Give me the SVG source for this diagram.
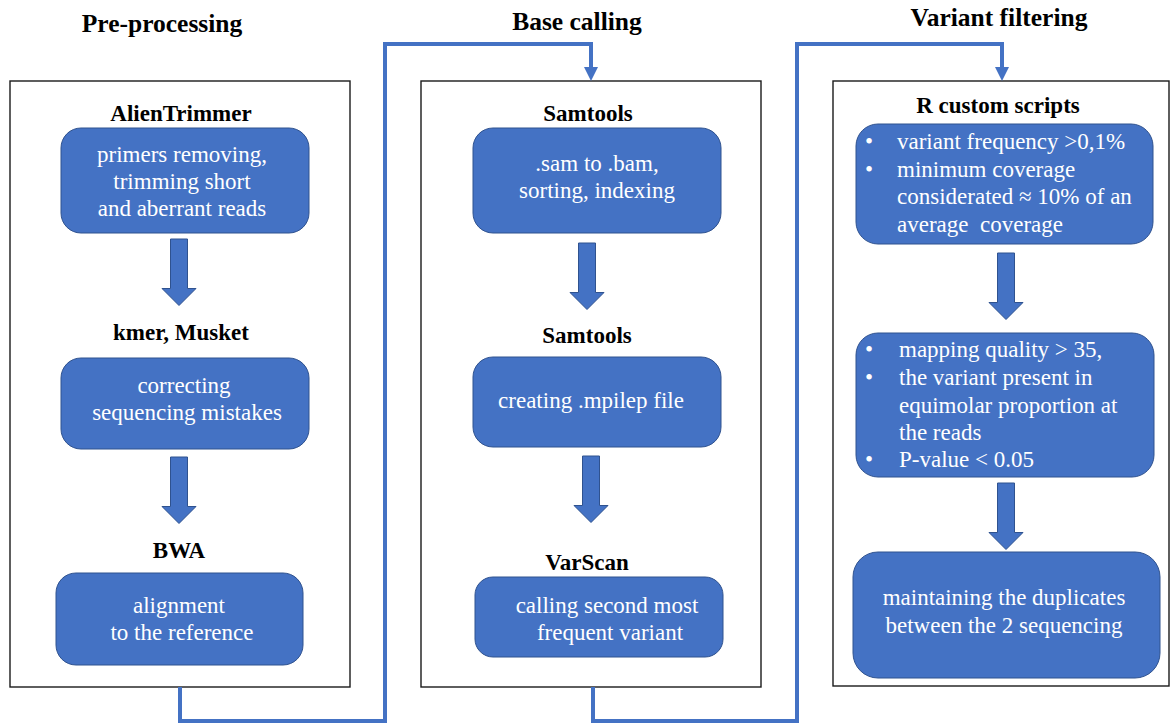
<svg xmlns="http://www.w3.org/2000/svg" width="1171" height="724" viewBox="0 0 1171 724">
<style>
text{font-family:'Liberation Serif','Times New Roman',Times,serif}
.title{font-weight:bold;font-size:25.5px;fill:#000;text-anchor:middle}
.lbl{font-weight:bold;font-size:23px;fill:#000;text-anchor:middle}
.frame{fill:#fff;stroke:#1a1a1a;stroke-width:1.4}
.box{fill:#4472C4;stroke:#2F528F;stroke-width:1}
.bt{font-size:23px;fill:#fff;text-anchor:middle}
.bl{font-size:23px;fill:#fff}
.conn{fill:none;stroke:#4472C4;stroke-width:4}
.barrow{fill:#4472C4;stroke:#2F528F;stroke-width:1}
</style>
<defs>
<marker id="head" markerUnits="userSpaceOnUse" markerWidth="14" markerHeight="14" refX="0" refY="7" orient="auto" viewBox="0 0 14 14">
<path d="M0,0 L14,7 L0,14 Z" fill="#4472C4"/>
</marker>
<path id="blk" d="M-8.5,0 H8.5 V49.5 H17 L0,66.5 L-17,49.5 H-8.5 Z"/>
</defs>

<g id="frames">
<rect id="frame-pre" class="frame" x="10" y="81" width="340" height="606"/>
<rect id="frame-base" class="frame" x="421" y="81" width="340" height="606"/>
<rect id="frame-var" class="frame" x="833" y="81" width="336" height="605"/>
</g>

<g id="connectors">
<path class="conn" d="M180,687 V721 H385 V44 H591 V67" marker-end="url(#head)"/>
<path class="conn" d="M593,687 V721 H797 V44 H1002 V67" marker-end="url(#head)"/>
<use href="#blk" class="barrow" transform="translate(179,239)"/>
<use href="#blk" class="barrow" transform="translate(179,457)"/>
<use href="#blk" class="barrow" transform="translate(587,243)"/>
<use href="#blk" class="barrow" transform="translate(591,456)"/>
<use href="#blk" class="barrow" transform="translate(1006,253)"/>
<use href="#blk" class="barrow" transform="translate(1006,483)"/>
</g>

<g id="titles" font-family="Liberation Serif, serif">
<text class="title" x="162" y="32">Pre-processing</text>
<text class="title" x="577" y="30">Base calling</text>
<text class="title" x="999" y="26">Variant filtering</text>
</g>

<g id="alientrimmer">
<text class="lbl" x="181" y="121">AlienTrimmer</text>
<rect class="box" x="61" y="128" width="248" height="105" rx="20"/>
<text class="bt" x="182" y="162">primers removing,</text>
<text class="bt" x="182" y="189">trimming short </text>
<text class="bt" x="182" y="216">and aberrant reads</text>
</g>

<g id="kmer-musket">
<text class="lbl" x="181" y="340">kmer, Musket</text>
<rect class="box" x="61" y="358" width="248" height="91" rx="20"/>
<text class="bt" x="184" y="393">correcting</text>
<text class="bt" x="187" y="420">sequencing mistakes</text>
</g>

<g id="bwa">
<text class="lbl" x="179" y="558">BWA</text>
<rect class="box" x="56" y="573" width="247" height="92" rx="20"/>
<text class="bt" x="179" y="613">alignment</text>
<text class="bt" x="182" y="640">to the reference</text>
</g>

<g id="samtools-1">
<text class="lbl" x="588" y="121">Samtools</text>
<rect class="box" x="473" y="128" width="248" height="105" rx="20"/>
<text class="bt" x="597" y="171">.sam to .bam,</text>
<text class="bt" x="597" y="198">sorting, indexing</text>
</g>

<g id="samtools-2">
<text class="lbl" x="587" y="343">Samtools</text>
<rect class="box" x="473" y="357" width="248" height="90" rx="20"/>
<text class="bt" x="591" y="408">creating .mpilep file</text>
</g>

<g id="varscan">
<text class="lbl" x="587" y="570">VarScan</text>
<rect class="box" x="475" y="577" width="248" height="80" rx="18"/>
<text class="bt" x="607" y="613">calling second most</text>
<text class="bt" x="610" y="640">frequent variant</text>
</g>

<g id="r-scripts-1">
<text class="lbl" x="998" y="113">R custom scripts</text>
<rect class="box" x="856" y="124" width="297" height="120" rx="22"/>
<text class="bl" x="865" y="149">•</text>
<text class="bl" x="897" y="149">variant frequency &gt;0,1%</text>
<text class="bl" x="865" y="177">•</text>
<text class="bl" x="897" y="177">minimum coverage</text>
<text class="bl" x="897" y="204">considerated ≈ 10% of an</text>
<text class="bl" x="897" y="232" xml:space="preserve">average  coverage</text>
</g>

<g id="r-scripts-2">
<rect class="box" x="856" y="333" width="298" height="144" rx="22"/>
<text class="bl" x="865" y="357">•</text>
<text class="bl" x="899" y="357">mapping quality &gt; 35,</text>
<text class="bl" x="865" y="385">•</text>
<text class="bl" x="899" y="385">the variant present in</text>
<text class="bl" x="899" y="413">equimolar proportion at</text>
<text class="bl" x="899" y="440">the reads</text>
<text class="bl" x="865" y="467">•</text>
<text class="bl" x="899" y="467">P-value &lt; 0.05</text>
</g>

<g id="duplicates">
<rect class="box" x="853" y="552" width="307" height="126" rx="25"/>
<text class="bt" x="1004" y="605">maintaining the duplicates</text>
<text class="bt" x="1004" y="633">between the 2 sequencing</text>
</g>
</svg>
